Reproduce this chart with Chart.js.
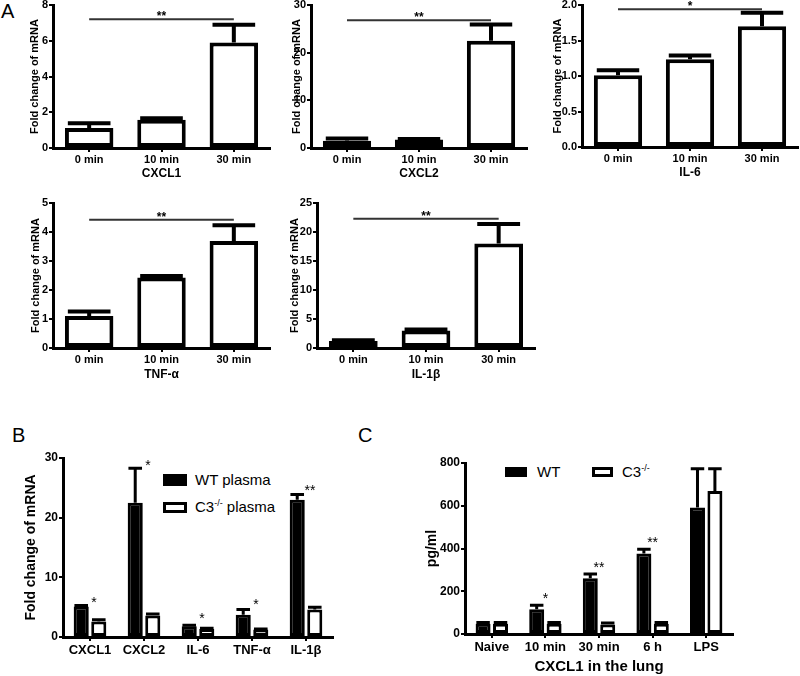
<!DOCTYPE html>
<html>
<head>
<meta charset="utf-8">
<script src="https://cdn.jsdelivr.net/npm/chart.js@4.4.1/dist/chart.umd.min.js"></script>
<style>
  body { margin: 0; background: #fff; width: 800px; height: 676px; position: relative; overflow: hidden;
         font-family: "Liberation Sans", Arial, sans-serif; color: #000; }
  canvas { position: absolute; }
  .letter { position: absolute; font-size: 20px; line-height: 20px; }
  .lg-box { position: absolute; box-sizing: border-box; background: #000; }
  .lg-box.open { background: #fff; border: 3px solid #000; }
  .lg-text { position: absolute; font-size: 15px; line-height: 16px; white-space: nowrap; }
  .lg-text sup { font-size: 9px; vertical-align: 6px; line-height: 0; }
</style>
</head>
<body>
<div class="letter" style="left:1px;top:1px">A</div>
<div class="letter" style="left:12px;top:425px">B</div>
<div class="letter" style="left:358px;top:425px">C</div>

<div class="lg-box" style="left:163px;top:474px;width:24px;height:12px"></div>
<div class="lg-text" style="left:195px;top:472px">WT plasma</div>
<div class="lg-box open" style="left:163px;top:502px;width:24px;height:11px"></div>
<div class="lg-text" style="left:195px;top:499px">C3<sup>-/-</sup> plasma</div>

<div class="lg-box" style="left:505px;top:467px;width:22px;height:10px"></div>
<div class="lg-text" style="left:537px;top:464px">WT</div>
<div class="lg-box open" style="left:592px;top:467px;width:21px;height:10px"></div>
<div class="lg-text" style="left:622px;top:464px">C3<sup>-/-</sup></div>

<script>
// Panel A: fold change over time in five genes
const timeLabels = ['0 min', '10 min', '30 min'];
const cxcl1Mean = [1.12, 1.58, 5.9];
const cxcl1Sem = [0.26, 0.08, 1.0];
const cxcl2Mean = [1.5, 1.8, 22.5];
const cxcl2Sem = [0.5, 0.1, 3.4];
const il6Mean = [1.01, 1.235, 1.70];
const il6Sem = [0.07, 0.055, 0.19];
const tnfMean = [1.1, 2.43, 3.69];
const tnfSem = [0.16, 0.05, 0.54];
const il1bMean = [1.2, 3.0, 18.0];
const il1bSem = [0.15, 0.2, 3.4];
const sigLevelA = [7.2, 26.8, 1.94, 4.42, 22.3];
const sigMarkA = ['**', '**', '*', '**', '**'];

// Panel B: WT plasma vs C3-/- plasma
const geneLabels = ['CXCL1', 'CXCL2', 'IL-6', 'TNF-α', 'IL-1β'];
const wtPlasmaMean = [5.1, 22.5, 1.8, 3.75, 23.0];
const wtPlasmaSem = [0.2, 5.8, 0.15, 0.85, 0.9];
const c3PlasmaMean = [2.6, 3.6, 1.35, 1.25, 4.6];
const c3PlasmaSem = [0.3, 0.25, 0.1, 0.1, 0.4];
const starLevelB = [6.4, 29.4, 3.7, 6.0, 25.1];
const starMarkB = ['*', '*', '*', '*', '**'];

// Panel C: CXCL1 in the lung (pg/ml)
const lungLabels = ['Naive', '10 min', '30 min', '6 h', 'LPS'];
const wtLungMean = [48, 116, 261, 377, 592];
const wtLungSem = [6, 18, 20, 19, 181];
const c3LungMean = [48, 48, 45, 48, 669];
const c3LungSem = [6, 6, 6, 6, 104];
const starLevelC = [null, 183, 326, 443, null];
const starMarkC = ['', '*', '**', '**', ''];

const FONT = '"Liberation Sans", Arial, sans-serif';

// error bars (upper only), significance bracket and stars
const marksPlugin = {
  id: 'marks',
  afterDatasetsDraw(chart, args, opts) {
    const { ctx, scales: { x, y } } = chart;
    ctx.save();
    ctx.strokeStyle = '#000';
    ctx.lineCap = 'butt';
    chart.data.datasets.forEach((ds, di) => {
      chart.getDatasetMeta(di).data.forEach((bar, i) => {
        const top = y.getPixelForValue(ds.data[i] + ds.sem[i]);
        const half = bar.width * opts.capRatio / 2;
        ctx.lineWidth = opts.errWidth;
        ctx.beginPath();
        ctx.moveTo(bar.x, bar.y);
        ctx.lineTo(bar.x, top);
        ctx.moveTo(bar.x - half, top);
        ctx.lineTo(bar.x + half, top);
        ctx.stroke();
      });
    });
    ctx.fillStyle = '#000';
    ctx.textAlign = 'center';
    ctx.textBaseline = 'alphabetic';
    if (opts.bracket) {
      const b = opts.bracket;
      const py = y.getPixelForValue(b.level);
      const x0 = x.getPixelForValue(b.from), x1 = x.getPixelForValue(b.to);
      ctx.strokeStyle = '#333';
      ctx.lineWidth = 2;
      ctx.beginPath();
      ctx.moveTo(x0, py);
      ctx.lineTo(x1, py);
      ctx.stroke();
      ctx.font = 'bold 12px ' + FONT;
      ctx.fillText(b.text, (x0 + x1) / 2, py - 6 + 0.57 * 12);
    }
    if (opts.stars) {
      ctx.font = opts.starFont + 'px ' + FONT;
      const fs = parseFloat(opts.starFont.split(' ').pop());
      opts.stars.levels.forEach((lv, i) => {
        if (lv == null || !opts.stars.marks[i]) return;
        const px = x.getPixelForValue(i) + opts.stars.dx;
        ctx.fillText(opts.stars.marks[i], px, y.getPixelForValue(lv) + 0.57 * fs);
      });
    }
    ctx.restore();
  }
};

function barChart(p) {
  const padTop = 10, padRight = 6;
  const yLh = p.yTitleSize * 1.2;
  const left = Math.round(p.area.l - (p.area.l - p.yTitleX + yLh / 2 + 2));
  const yw = p.area.l - left;
  const yTitlePad = p.yTitleX - left - yLh / 2;
  let xh = p.xh, xTitlePad = 0;
  if (p.xTitle) {
    const xLh = p.xTitleSize * 1.2;
    xh = Math.round(p.xTitleY - p.area.b + xLh / 2 + 2);
    xTitlePad = p.area.b + xh - p.xTitleY - xLh / 2;
  }
  const top = p.area.t - padTop;
  const w = p.area.r + padRight - left;
  const h = p.area.b + xh - top;

  const canvas = document.createElement('canvas');
  canvas.width = w;
  canvas.height = h;
  canvas.style.left = left + 'px';
  canvas.style.top = top + 'px';
  canvas.style.width = w + 'px';
  canvas.style.height = h + 'px';
  document.body.appendChild(canvas);

  new Chart(canvas, {
    type: 'bar',
    data: { labels: p.labels, datasets: p.datasets },
    options: {
      responsive: false,
      animation: false,
      events: [],
      layout: { padding: { top: padTop, right: padRight, left: 0, bottom: 0 } },
      plugins: { legend: { display: false }, tooltip: { enabled: false }, marks: p.marks },
      scales: {
        x: {
          offset: true,
          grid: { display: true, drawOnChartArea: false, offset: false, tickLength: 4, color: '#000', lineWidth: 2 },
          border: { display: true, color: '#000', width: p.axisWidth },
          ticks: { color: '#000', font: { family: FONT, size: p.xTickSize, weight: 'bold' }, padding: p.xTickPad,
                   maxRotation: 0, autoSkip: false },
          title: { display: !!p.xTitle, text: p.xTitle || '', color: '#000',
                   font: { family: FONT, size: p.xTitleSize || 12, weight: 'bold' },
                   padding: { top: 0, bottom: xTitlePad } },
          afterFit: s => { s.height = xh; }
        },
        y: {
          min: 0,
          max: p.yMax,
          grid: { drawOnChartArea: false, tickLength: 4, color: '#000', lineWidth: 2 },
          border: { display: true, color: '#000', width: p.axisWidth },
          ticks: { stepSize: p.yStep, color: '#000', padding: 1,
                   font: { family: FONT, size: p.yTickSize, weight: 'bold' },
                   callback: p.yFmt || (v => v) },
          title: { display: true, text: p.yTitle, color: '#000',
                   font: { family: FONT, size: p.yTitleSize, weight: 'bold' },
                   padding: { top: yTitlePad, bottom: 0 } },
          afterFit: s => { s.width = yw; }
        }
      }
    },
    plugins: [marksPlugin]
  });
}

function openBar(data, sem, bw, pct) {
  return { data, sem, backgroundColor: '#fff', borderColor: '#000', borderWidth: bw,
           borderSkipped: false, categoryPercentage: pct[0], barPercentage: pct[1] };
}
function solidBar(data, sem, bw, pct) {
  return { data, sem, backgroundColor: '#000', borderColor: '#000', borderWidth: bw,
           borderSkipped: false, categoryPercentage: pct[0], barPercentage: pct[1] };
}

// ---- panel A ----
const smallPanels = [
  { area: { l: 53, t: 5, r: 270, b: 148 }, yTitleX: 35, xTitleY: 174, title: 'CXCL1',
    mean: cxcl1Mean, sem: cxcl1Sem, yMax: 8, yStep: 2 },
  { area: { l: 311, t: 5, r: 527, b: 148 }, yTitleX: 297, xTitleY: 174, title: 'CXCL2',
    mean: cxcl2Mean, sem: cxcl2Sem, yMax: 30, yStep: 10 },
  { area: { l: 582, t: 5, r: 798, b: 147 }, yTitleX: 558, xTitleY: 173, title: 'IL-6',
    mean: il6Mean, sem: il6Sem, yMax: 2, yStep: 0.5, yFmt: v => v.toFixed(1) },
  { area: { l: 53, t: 203, r: 270, b: 348 }, yTitleX: 36, xTitleY: 375, title: 'TNF-α',
    mean: tnfMean, sem: tnfSem, yMax: 5, yStep: 1 },
  { area: { l: 317, t: 203, r: 535, b: 348 }, yTitleX: 295, xTitleY: 375, title: 'IL-1β',
    mean: il1bMean, sem: il1bSem, yMax: 25, yStep: 5 }
];

smallPanels.forEach((sp, k) => {
  barChart({
    area: sp.area, yTitleX: sp.yTitleX, yTitleSize: 11, yTitle: 'Fold change of mRNA',
    xTitle: sp.title, xTitleY: sp.xTitleY, xTitleSize: 12,
    labels: timeLabels, xTickSize: 11, xTickPad: 1, yTickSize: 11,
    yMax: sp.yMax, yStep: sp.yStep, yFmt: sp.yFmt, axisWidth: 3,
    datasets: [openBar(sp.mean, sp.sem, 4, [1, 0.67])],
    marks: { errWidth: 4, capRatio: 0.88,
             bracket: { from: 0, to: 2, level: sigLevelA[k], text: sigMarkA[k] } }
  });
});

// ---- panel B ----
barChart({
  area: { l: 63, t: 458, r: 333, b: 637 }, yTitleX: 31, yTitleSize: 14, yTitle: 'Fold change of mRNA',
  xh: 26, labels: geneLabels, xTickSize: 13, xTickPad: 2, yTickSize: 12,
  yMax: 30, yStep: 10, axisWidth: 3,
  datasets: [
    solidBar(wtPlasmaMean, wtPlasmaSem, 3, [0.65, 0.86]),
    openBar(c3PlasmaMean, c3PlasmaSem, 3, [0.65, 0.86])
  ],
  marks: { errWidth: 3, capRatio: 0.9, starFont: 'normal 14',
           stars: { levels: starLevelB, marks: starMarkB, dx: 4 } }
});

// ---- panel C ----
barChart({
  area: { l: 465, t: 463, r: 733, b: 634 }, yTitleX: 432, yTitleSize: 14, yTitle: 'pg/ml',
  xTitle: 'CXCL1 in the lung', xTitleY: 667, xTitleSize: 15,
  labels: lungLabels, xTickSize: 13, xTickPad: 2, yTickSize: 12,
  yMax: 800, yStep: 200, axisWidth: 3,
  datasets: [
    solidBar(wtLungMean, wtLungSem, 3, [0.65, 0.86]),
    openBar(c3LungMean, c3LungSem, 3, [0.65, 0.86])
  ],
  marks: { errWidth: 3, capRatio: 0.9, starFont: 'normal 14',
           stars: { levels: starLevelC, marks: starMarkC, dx: 0 } }
});
</script>
</body>
</html>
